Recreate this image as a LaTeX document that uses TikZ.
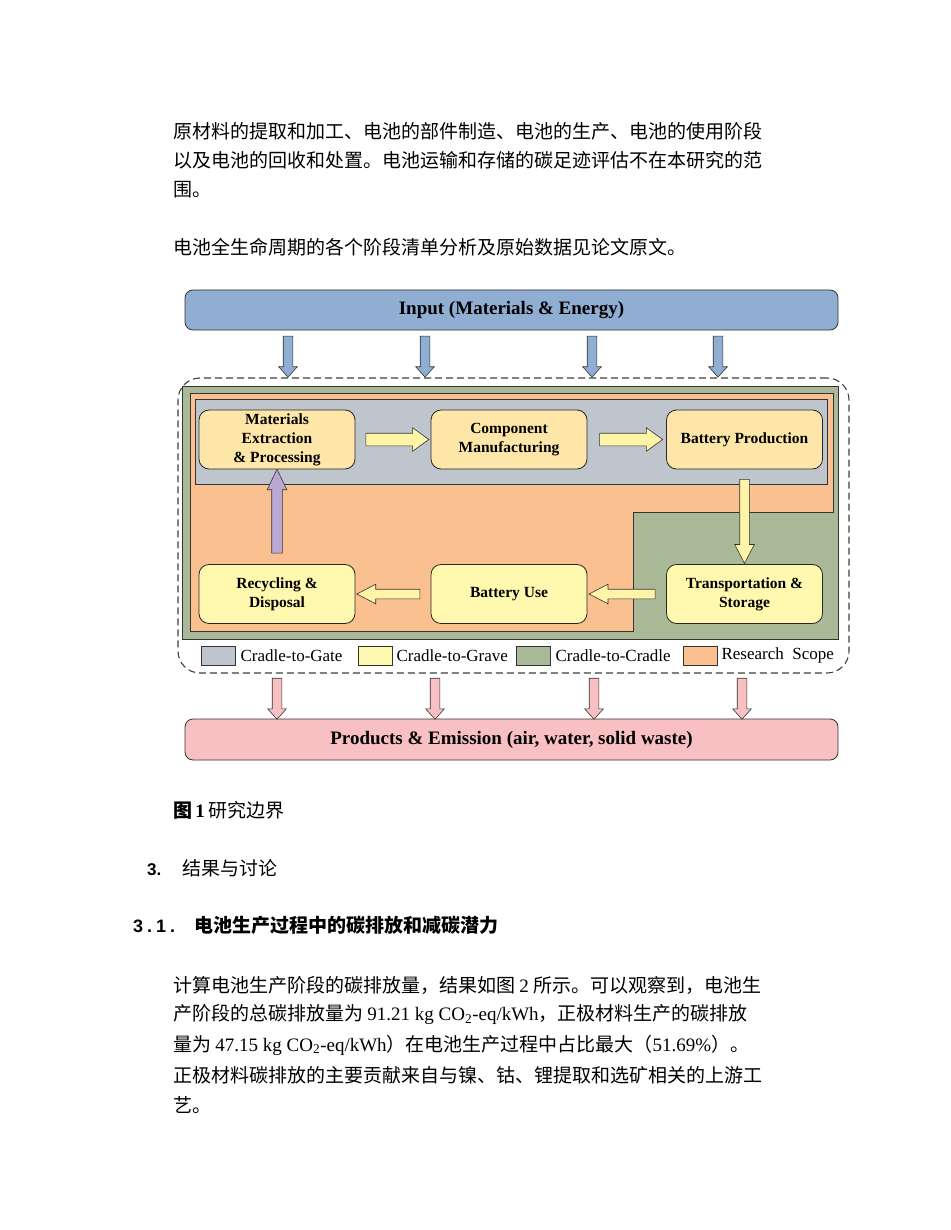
\documentclass[tikz,border=0pt]{standalone}
\usepackage{fontspec}
\setmainfont{Liberation Serif}
\newfontfamily\cjk{Noto Sans CJK SC}
\newfontfamily\heads{Liberation Sans}
\usetikzlibrary{shapes.arrows}

\definecolor{inblue}{RGB}{143,174,210}
\definecolor{outpink}{RGB}{249,192,196}
\definecolor{cradlegreen}{RGB}{170,186,152}
\definecolor{scopeorange}{RGB}{250,192,143}
\definecolor{gategray}{RGB}{190,197,204}
\definecolor{topyellow}{RGB}{253,230,167}
\definecolor{lowyellow}{RGB}{255,249,175}
\definecolor{arrowyellow}{RGB}{255,244,168}
\definecolor{recycpurple}{RGB}{186,168,210}

\begin{document}
\begin{tikzpicture}[
  x=1pt, y=-1pt,
  stage/.style={draw=black!85, line width=0.8pt, rounded corners=10pt, minimum width=156pt, minimum height=59pt, align=center, inner sep=2pt, font=\bfseries\fontsize{15.5}{19}\selectfont},
  topstage/.style={stage, fill=topyellow},
  lowstage/.style={stage, fill=lowyellow},
  bar/.style={draw=black!80, line width=0.8pt, rounded corners=8pt, minimum width=653pt, minimum height=40pt, font=\bfseries\fontsize{19}{23}\selectfont},
  blockarrow/.style={single arrow, draw=black!80, line width=0.6pt, inner xsep=0pt, inner ysep=4.5pt, sloped, allow upside down, single arrow head extend=5pt, single arrow tip angle=55},
  flowarrow/.style={blockarrow, fill=arrowyellow, minimum height=63pt},
  ioarrow/.style={blockarrow, single arrow head extend=4.5pt, single arrow tip angle=84, minimum height=41pt},
  region/.style={draw=black!80, line width=0.7pt},
  legendsq/.style={draw=black!80, line width=0.7pt, minimum width=34pt, minimum height=19pt, inner sep=0pt},
  legendtext/.style={anchor=west, inner sep=0pt, font=\fontsize{17}{20}\selectfont},
  para/.style={anchor=west, inner sep=0pt, font=\cjk\fontsize{19}{23}\selectfont}
]
\useasboundingbox (0,0) rectangle (950,1230);
\fill[white] (0,0) rectangle (950,1230);

% text above the figure
\node[para] (pa) at (173,131) {原材料的提取和加工、电池的部件制造、电池的生产、电池的使用阶段};
\node[para] (pb) at (173,160) {以及电池的回收和处置。电池运输和存储的碳足迹评估不在本研究的范};
\node[para] (pc) at (173,190) {围。};
\node[para] (pd) at (173,247) {电池全生命周期的各个阶段清单分析及原始数据见论文原文。};

% input and output bars
\node[bar, fill=inblue] (input) at (511.5,310) {Input (Materials \& Energy)};
\node[bar, fill=outpink, minimum height=41pt] (output) at (511.5,739.5) {Products \& Emission (air, water, solid waste)};

% system boundary
\node[draw=black!75, dashed, dash pattern=on 7pt off 4pt, line width=1.1pt, rounded corners=22pt, minimum width=671pt, minimum height=295pt] (scope) at (513.5,525.5) {};
\draw[region, fill=cradlegreen] (182,386) rectangle (838,639);
\draw[region, fill=scopeorange] (190,393) -- (833,393) -- (833,512) -- (633,512) -- (633,631) -- (190,631) -- cycle;
\draw[region, fill=gategray] (195,399) rectangle (827,484);

% stages
\node[topstage] (mat) at (277,439.5) {Materials\\Extraction\\\& Processing};
\node[topstage] (comp) at (509,439.5) {Component\\Manufacturing};
\node[topstage] (prod) at (744.5,439.5) {Battery Production};
\node[lowstage] (recyc) at (277,594) {Recycling \&\\Disposal};
\node[lowstage] (use) at (509,594) {Battery Use};
\node[lowstage] (trans) at (744.5,594) {Transportation \&\\Storage};

% flow arrows
\path (mat) -- (comp) node[midway, flowarrow, inner ysep=6pt, single arrow head extend=5.5pt, single arrow tip angle=72] {};
\path (comp) -- (prod) node[midway, flowarrow, inner ysep=6pt, single arrow head extend=5.5pt, single arrow tip angle=72] {};
\path (prod) -- (trans) node[midway, flowarrow, minimum height=84pt] {};
\path (trans) -- (use) node[midway, flowarrow, minimum height=66pt] {};
\path (use) -- (recyc) node[midway, flowarrow] {};
\path (recyc) -- (mat) node[midway, blockarrow, fill=recycpurple, minimum height=84pt, inner ysep=5pt, single arrow head extend=4.5pt, single arrow tip angle=51] {};

\foreach \x in {288,425,592,718}
  \path (input.south -| \x,0) -- (scope.north -| \x,0) node[midway, ioarrow, fill=inblue] {};
\foreach \x in {277,435,594,742}
  \path (scope.south -| \x,0) -- (output.north -| \x,0) node[midway, ioarrow, fill=outpink] {};

% legend
\node[legendsq, fill=gategray] (lgate) at (218,655.5) {};
\node[legendtext] (tgate) at ([xshift=5pt]lgate.east) {Cradle-to-Gate};
\node[legendsq, fill=lowyellow] (lgrave) at (375,655.5) {};
\node[legendtext] (tgrave) at ([xshift=4pt]lgrave.east) {Cradle-to-Grave};
\node[legendsq, fill=cradlegreen] (lcradle) at (533,655.5) {};
\node[legendtext] (tcradle) at ([xshift=5pt]lcradle.east) {Cradle-to-Cradle};
\node[legendsq, fill=scopeorange] (lscope) at (700,655.5) {};
\node[legendtext] (tscope) at ([xshift=4pt]lscope.east) {Research\ \ Scope};

% caption and text below
\node[para] (cap) at (173,810) {{\bfseries 图}\,{\rmfamily\bfseries 1}\,研究边界};
\node[para] (sec) at (147,868) {{\heads\bfseries\fontsize{17}{20}\selectfont 3.}\hspace{21pt}结果与讨论};
\node[para] (subsec) at (133,925) {{\heads\bfseries\fontsize{18}{21}\selectfont 3\kern4pt.\kern4pt1\kern4pt.}\hspace{19pt}{\bfseries 电池生产过程中的碳排放和减碳潜力}};

\node[para] (qa) at (173,985) {计算电池生产阶段的碳排放量，结果如图 {\rmfamily 2} 所示。可以观察到，电池生};
\node[para] (qb) at (173,1015) {产阶段的总碳排放量为 {\rmfamily 91.21 kg CO\textsubscript{2}-eq/kWh}，正极材料生产的碳排放};
\node[para] (qc) at (173,1045) {量为 {\rmfamily 47.15 kg CO\textsubscript{2}-eq/kWh}）在电池生产过程中占比最大（{\rmfamily 51.69\%}）。};
\node[para] (qd) at (173,1075) {正极材料碳排放的主要贡献来自与镍、钴、锂提取和选矿相关的上游工};
\node[para] (qe) at (173,1105) {艺。};
\end{tikzpicture}
\end{document}
